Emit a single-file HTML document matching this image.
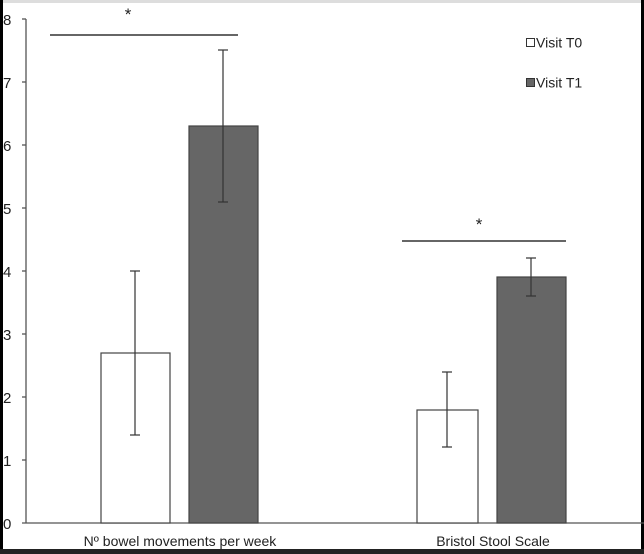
<!DOCTYPE html><html><head><style>body{margin:0;background:#fff}svg{display:block}text{font-family:"Liberation Sans",sans-serif;fill:#222}</style></head><body>
<svg width="644" height="554" xmlns="http://www.w3.org/2000/svg">
<rect width="644" height="554" fill="#fff"/>
<rect x="0" y="0" width="644" height="3" fill="#ddd"/>
<rect x="0" y="0" width="3" height="554" fill="#000"/>
<rect x="641" y="0" width="3" height="554" fill="#000"/>
<rect x="0" y="549" width="644" height="5" fill="#222"/>
<g stroke="#555" stroke-width="1.3">
<line x1="26" y1="19" x2="26" y2="523"/>
<line x1="22" y1="523" x2="644" y2="523"/>
<line x1="22" y1="19" x2="26" y2="19"/><line x1="22" y1="82" x2="26" y2="82"/><line x1="22" y1="145" x2="26" y2="145"/><line x1="22" y1="208" x2="26" y2="208"/><line x1="22" y1="271" x2="26" y2="271"/><line x1="22" y1="334" x2="26" y2="334"/><line x1="22" y1="397" x2="26" y2="397"/><line x1="22" y1="460" x2="26" y2="460"/>
</g>
<g font-size="15">
<text x="3" y="25">8</text><text x="3" y="88">7</text><text x="3" y="151">6</text><text x="3" y="214">5</text><text x="3" y="277">4</text><text x="3" y="340">3</text><text x="3" y="403">2</text><text x="3" y="466">1</text><text x="3" y="529">0</text>
</g>
<g stroke="#444" stroke-width="1.2">
<rect x="101" y="353" width="69" height="170" fill="#fff"/>
<rect x="189" y="126" width="69" height="397" fill="#666"/>
<rect x="417" y="410" width="61" height="113" fill="#fff"/>
<rect x="497" y="277" width="69" height="246" fill="#666"/>
</g>
<g stroke="#333" stroke-width="1.2">
<line x1="135" y1="271" x2="135" y2="435"/><line x1="130" y1="271" x2="140" y2="271"/><line x1="130" y1="435" x2="140" y2="435"/>
<line x1="223" y1="50" x2="223" y2="202"/><line x1="218" y1="50" x2="228" y2="50"/><line x1="218" y1="202" x2="228" y2="202"/>
<line x1="447" y1="372" x2="447" y2="447"/><line x1="442" y1="372" x2="452" y2="372"/><line x1="442" y1="447" x2="452" y2="447"/>
<line x1="531" y1="258" x2="531" y2="296"/><line x1="526" y1="258" x2="536" y2="258"/><line x1="526" y1="296" x2="536" y2="296"/>
<line x1="50" y1="35" x2="238" y2="35" stroke-width="1.5"/>
<line x1="402" y1="241" x2="566" y2="241" stroke-width="1.5"/>
</g>
<text x="128" y="20" font-size="17" text-anchor="middle">*</text>
<text x="479" y="230" font-size="17" text-anchor="middle">*</text>
<rect x="526.5" y="38.5" width="8" height="8" fill="#fff" stroke="#333"/>
<rect x="526.5" y="78.5" width="8" height="8" fill="#666" stroke="#333"/>
<text x="536" y="47.5" font-size="14">Visit T0</text>
<text x="536" y="87.5" font-size="14">Visit T1</text>
<text x="180" y="546" font-size="14" text-anchor="middle">Nº bowel movements per week</text>
<text x="493" y="546" font-size="14" text-anchor="middle">Bristol Stool Scale</text>
</svg></body></html>
